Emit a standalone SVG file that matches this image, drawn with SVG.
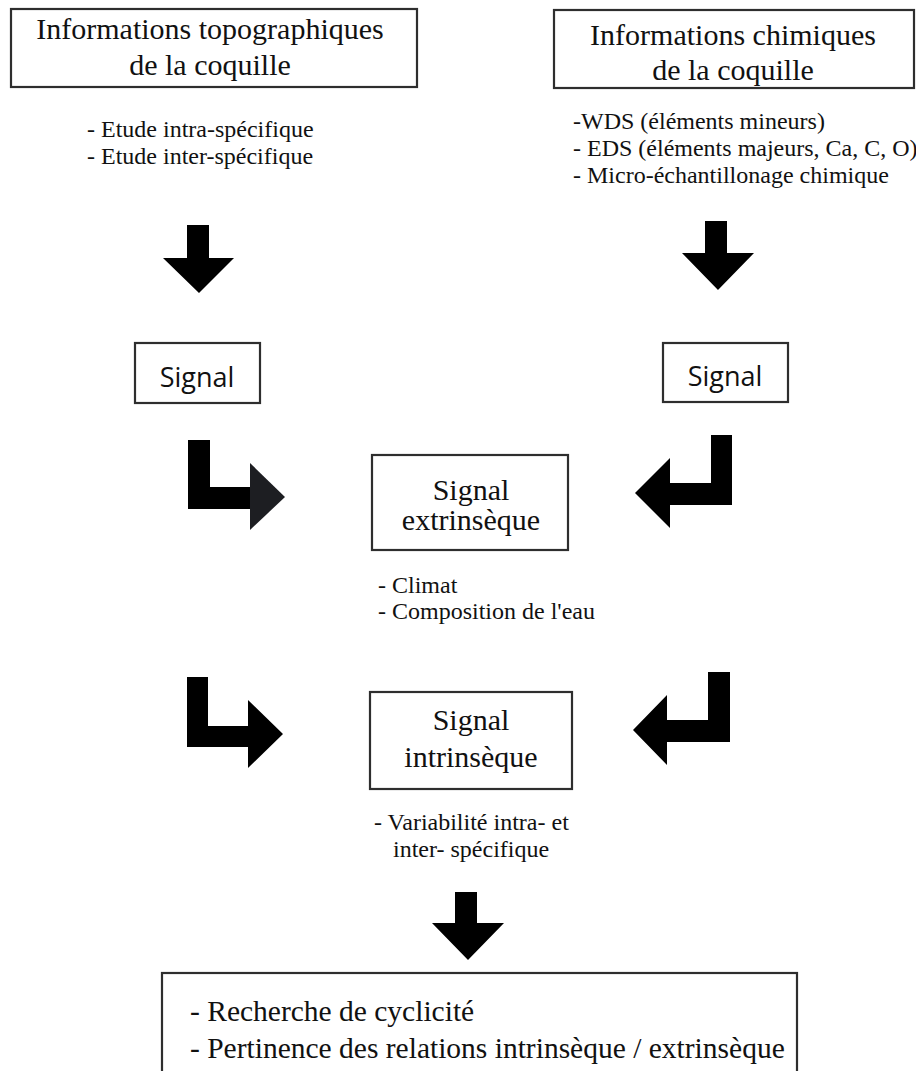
<svg xmlns="http://www.w3.org/2000/svg" width="916" height="1071" viewBox="0 0 916 1071">
<style>
.box{fill:#fff;stroke:#2e2e2e;stroke-width:2.2}
.serif{font-family:"Liberation Serif","Times New Roman",serif;fill:#111}
.title{font-size:30px;text-anchor:middle}
.mid{font-size:30px;text-anchor:middle}
.bul{font-size:24px}
.big{font-size:29.5px}
.sans{font-family:"Open Sans","Noto Sans",sans-serif;font-size:27px;fill:#111;text-anchor:middle}
.arrow{fill:#000}
</style>
<rect width="916" height="1071" fill="#fff"/>
<g id="connectors">
<polygon class="arrow" points="187,225 209,225 209,258 234,258 199,293 163,258 187,258"/>
<polygon class="arrow" points="705,221 727,221 727,253 754,253 718,290 682,253 705,253"/>
<polygon class="arrow" points="188,440 210,440 210,487 250,487 250,509 188,509"/>
<polygon points="250,463 285,497 250,530" fill="#1d1e22"/>
<polygon class="arrow" points="711,435 732,435 732,505 670,505 670,528 635,493 670,458 670,483 711,483"/>
<polygon class="arrow" points="187,677 208,677 208,726 248,726 248,700 283,734 248,768 248,747 187,747"/>
<polygon class="arrow" points="708,672 730,672 730,742 667,742 667,765 633,730 667,695 667,720 708,720"/>
<polygon class="arrow" points="455,892 477,892 477,923 504,923 468,960 432,923 455,923"/>
</g>
<g id="topo">
<rect class="box" x="11" y="9" width="406" height="78"/>
<text class="serif title" x="210" y="39">Informations topographiques</text>
<text class="serif title" x="210" y="75">de la coquille</text>
<text class="serif bul" x="87" y="137">- Etude intra-spécifique</text>
<text class="serif bul" x="87" y="164">- Etude inter-spécifique</text>
</g>
<g id="chim">
<rect class="box" x="554" y="10" width="360" height="78"/>
<text class="serif title" x="733" y="45">Informations chimiques</text>
<text class="serif title" x="733" y="80">de la coquille</text>
<text class="serif bul" x="573" y="129">-WDS (éléments mineurs)</text>
<text class="serif bul" x="573" y="156">- EDS (éléments majeurs, Ca, C, O)</text>
<text class="serif bul" x="573" y="183">- Micro-échantillonage chimique</text>
</g>
<g id="signal-left">
<rect class="box" x="135" y="343" width="125" height="60"/>
<text class="sans" x="197" y="387">Signal</text>
</g>
<g id="signal-right">
<rect class="box" x="663" y="343" width="125" height="59"/>
<text class="sans" x="725" y="386">Signal</text>
</g>
<g id="extrinseque">
<rect class="box" x="372" y="455" width="196" height="95"/>
<text class="serif mid" x="471" y="500">Signal</text>
<text class="serif mid" x="471" y="530">extrinsèque</text>
<text class="serif bul" x="378" y="593">- Climat</text>
<text class="serif bul" x="378" y="619">- Composition de l'eau</text>
</g>
<g id="intrinseque">
<rect class="box" x="370" y="692" width="202" height="97"/>
<text class="serif mid" x="471" y="730">Signal</text>
<text class="serif mid" x="471" y="767">intrinsèque</text>
<text class="serif bul" x="374" y="830">- Variabilité intra- et</text>
<text class="serif bul" x="393" y="857">inter- spécifique</text>
</g>
<g id="bilan">
<rect class="box" x="162" y="973" width="635" height="130"/>
<text class="serif big" x="190" y="1021">- Recherche de cyclicité</text>
<text class="serif big" x="190" y="1058">- Pertinence des relations intrinsèque / extrinsèque</text>
</g>
</svg>
